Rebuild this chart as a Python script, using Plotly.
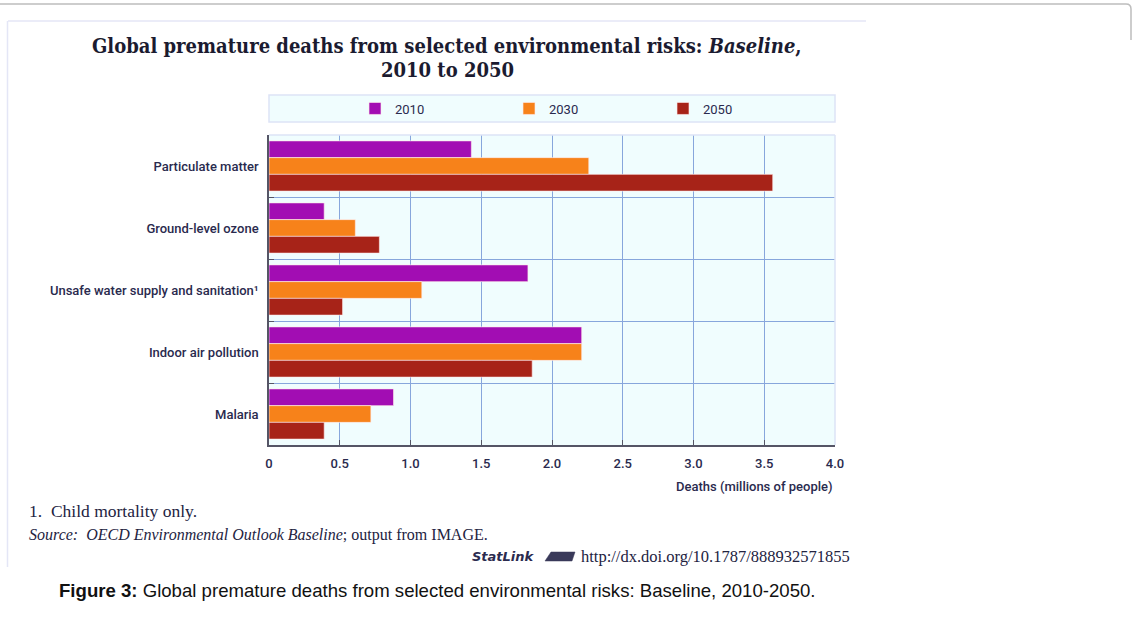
import plotly.graph_objects as go

# Data (millions of deaths)
categories = [
    "Particulate matter",
    "Ground-level ozone",
    "Unsafe water supply and sanitation\u00b9",
    "Indoor air pollution",
    "Malaria",
]
years = ["2010", "2030", "2050"]
deaths_2010 = [1.43, 0.39, 1.83, 2.21, 0.88]
deaths_2030 = [2.26, 0.61, 1.08, 2.21, 0.72]
deaths_2050 = [3.56, 0.78, 0.52, 1.86, 0.39]
x_ticks = [0, 0.5, 1.0, 1.5, 2.0, 2.5, 3.0, 3.5, 4.0]
x_tick_labels = ["0", "0.5", "1.0", "1.5", "2.0", "2.5", "3.0", "3.5", "4.0"]

colors = ["#a20db3", "#f7821a", "#a72318"]
series = [deaths_2010, deaths_2030, deaths_2050]

W, H = 1133, 619
L, R, T, B = 269, 835, 135, 445  # plot area in pixels


def px(x):
    return (x - L) / (R - L)


def py(y):
    return (B - y) / (B - T)


LABEL_FONT = "Roboto, Liberation Sans, sans-serif"
SERIF = "DejaVu Serif Condensed, Liberation Serif, serif"
NOTE_SERIF = "Liberation Serif, serif"
TEXT_COL = "#2a2a4e"
GRID_COL = "#87a6dc"

fig = go.Figure()
for name, vals, col in zip(years, series, colors):
    fig.add_trace(go.Bar(
        name=name, y=categories, x=vals, orientation="h",
        marker=dict(color=col, line=dict(color="rgba(255,235,235,0.8)", width=0.8)),
    ))

fig.update_layout(
    width=W, height=H,
    margin=dict(l=L, r=W - R, t=T, b=H - B, pad=0),
    paper_bgcolor="white",
    plot_bgcolor="#f0fdfe",
    barmode="group",
    bargap=0.19,
    bargroupgap=0,
    showlegend=True,
    legend=dict(
        orientation="h", x=px(355), y=py(108.5), xanchor="left", yanchor="middle",
        bgcolor="rgba(0,0,0,0)", entrywidth=109, entrywidthmode="pixels",
        font=dict(family=LABEL_FONT, size=13, color=TEXT_COL),
        traceorder="normal", itemclick=False,
    ),
    xaxis=dict(
        range=[0, 4.0], tickvals=x_ticks, ticktext=x_tick_labels,
        showgrid=True, gridcolor=GRID_COL, gridwidth=1,
        showline=True, linecolor="#555566", linewidth=1.5,
        ticks="inside", ticklen=5, tickcolor="#555566",
        tickfont=dict(family=LABEL_FONT, size=13, color=TEXT_COL, weight=500),
        ticklabelstandoff=6,
        zeroline=False, fixedrange=True,
    ),
    yaxis=dict(
        autorange="reversed", tickson="boundaries",
        showgrid=True, gridcolor=GRID_COL, gridwidth=1,
        showline=True, linecolor="#555566", linewidth=1.5,
        ticks="inside", ticklen=5, tickcolor="#555566",
        tickfont=dict(family=LABEL_FONT, size=13, color=TEXT_COL, weight=500),
        ticklabelstandoff=6, fixedrange=True,
    ),
)

shapes = [
    # outer page frame
    dict(type="path", xref="paper", yref="paper",
         path=f"M {px(0)},{py(4)} L {px(1126)},{py(4)} Q {px(1131)},{py(4)} {px(1131)},{py(9)} L {px(1131)},{py(40)}",
         line=dict(color="#bdbdbd", width=1.5)),
    # inner panel edges
    dict(type="line", xref="paper", yref="paper", x0=px(8), x1=px(866), y0=py(21), y1=py(21),
         line=dict(color="#e4e6f6", width=1.5)),
    dict(type="line", xref="paper", yref="paper", x0=px(7.5), x1=px(7.5), y0=py(21), y1=py(567),
         line=dict(color="#e4e6f6", width=1.5)),
    # legend box
    dict(type="rect", xref="paper", yref="paper", x0=px(269), x1=px(835), y0=py(95), y1=py(122),
         fillcolor="#f0fdfe", line=dict(color="#dde3f6", width=1.5), layer="below"),
    # plot frame top and right
    dict(type="line", xref="paper", yref="paper", x0=0, x1=1, y0=1, y1=1,
         line=dict(color="#dde3f6", width=1.5)),
    dict(type="line", xref="paper", yref="paper", x0=1, x1=1, y0=0, y1=1,
         line=dict(color="#dde3f6", width=1.5)),
    # StatLink icon
    dict(type="path", xref="paper", yref="paper",
         path=f"M {px(545)},{py(561)} L {px(551)},{py(552)} L {px(575)},{py(552)} L {px(572)},{py(561)} Z",
         fillcolor="#3a3a5a", line=dict(color="#3a3a5a", width=0.5)),
]
fig.update_layout(shapes=shapes)

annos = [
    dict(text="<b>Global premature deaths from selected environmental risks: <i>Baseline</i>,</b>",
         x=px(447), y=py(46), font=dict(family=SERIF, size=20, color="#1b1b30")),
    dict(text="<b>2010 to 2050</b>",
         x=px(447), y=py(70), font=dict(family=SERIF, size=20, color="#1b1b30")),
    dict(text="Deaths (millions of people)", x=px(835), y=py(486), xanchor="right",
         font=dict(family=LABEL_FONT, size=13, color=TEXT_COL, weight=500)),
    dict(text="1.  Child mortality only.", x=px(27), y=py(511), xanchor="left",
         font=dict(family=NOTE_SERIF, size=17.5, color="#23233f")),
    dict(text="<i>Source:  OECD Environmental Outlook Baseline</i>; output from IMAGE.",
         x=px(27), y=py(535), xanchor="left",
         font=dict(family=NOTE_SERIF, size=16, color="#23233f")),
    dict(text="<b><i>StatLink</i></b>", x=px(537), y=py(556), xanchor="right",
         font=dict(family="DejaVu Sans, sans-serif", size=13, color="#2b2b4f")),
    dict(text="http://dx.doi.org/10.1787/888932571855", x=px(852), y=py(556), xanchor="right",
         font=dict(family=NOTE_SERIF, size=16.5, color="#23233f")),
    dict(text="<b>Figure 3:</b> Global premature deaths from selected environmental risks: Baseline, 2010-2050.",
         x=px(57), y=py(590), xanchor="left",
         font=dict(family="Liberation Sans, Arial, sans-serif", size=18.6, color="#111111")),
]
for a in annos:
    a.setdefault("xanchor", "center")
    a.update(xref="paper", yref="paper", yanchor="middle", showarrow=False)
fig.update_layout(annotations=annos)

fig.write_html("out.html")
